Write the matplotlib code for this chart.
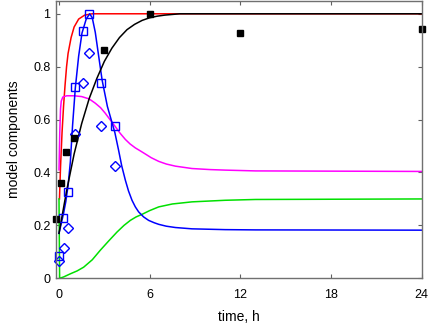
import matplotlib
matplotlib.use("Agg")
import matplotlib.pyplot as plt

plt.rcParams['font.family'] = ['Liberation Sans', 'DejaVu Sans']

# datos experimentales
t_black = [-0.18, 0.15, 0.44, 0.97, 3.0, 6.0, 12.0, 24.0]
y_black = [0.223, 0.361, 0.477, 0.529, 0.864, 1.0, 0.927, 0.943]

t_sq = [-0.02, 0.26, 0.6, 1.08, 1.56, 2.0, 2.78, 3.7]
y_sq = [0.083, 0.228, 0.327, 0.722, 0.936, 1.0, 0.74, 0.576]

t_dia = [-0.02, 0.3, 0.62, 1.08, 1.56, 2.0, 2.78, 3.7]
y_dia = [0.065, 0.115, 0.192, 0.544, 0.74, 0.853, 0.576, 0.425]

# curvas del modelo
t_red = [0.03, 0.1, 0.2, 0.3, 0.4, 0.5, 0.6, 0.8, 1.0, 1.3, 1.7, 2.2, 24]
y_red = [0.30, 0.42, 0.55, 0.65, 0.73, 0.80, 0.85, 0.91, 0.95, 0.98, 0.995, 1.0, 1.0]

t_mag = [0, 0.05, 0.1, 0.15, 0.25, 0.5, 1.0, 1.5, 2.0, 2.4, 2.75, 3.06, 3.4,
         3.73, 4.05, 4.39, 4.7, 5.05, 5.4, 5.71, 6.1, 6.6, 7.1, 7.7, 8.8,
         10, 11, 13, 24]
y_mag = [0.41, 0.55, 0.64, 0.67, 0.685, 0.69, 0.69, 0.687, 0.678, 0.662, 0.645,
         0.624, 0.598, 0.573, 0.548, 0.525, 0.508, 0.493, 0.481, 0.47, 0.456,
         0.442, 0.432, 0.424, 0.415, 0.411, 0.409, 0.406, 0.404]

t_blue = [0, 0.3, 0.45, 0.6, 0.75, 0.9, 1.08, 1.3, 1.52, 1.8, 2.03, 2.2, 2.4,
          2.6, 2.85, 3.2, 3.5, 3.7, 3.94, 4.15, 4.39, 4.6, 4.83, 5.05, 5.27,
          5.6, 5.93, 6.3, 6.6, 7.1, 7.7, 8.8, 11, 13, 24]
y_blue = [0.17, 0.245, 0.29, 0.35, 0.44, 0.58, 0.72, 0.84, 0.927, 0.98, 1.0,
          0.985, 0.93, 0.85, 0.75, 0.65, 0.59, 0.55, 0.485, 0.425, 0.371,
          0.33, 0.295, 0.27, 0.251, 0.232, 0.219, 0.21, 0.204, 0.197, 0.192,
          0.187, 0.184, 0.183, 0.182]

t_black_c = [0, 0.5, 1, 1.5, 2, 2.5, 3, 3.5, 4, 4.5, 5, 5.5, 6, 6.5, 7, 8, 24]
y_black_c = [0.17, 0.33, 0.47, 0.585, 0.68, 0.755, 0.82, 0.87, 0.91, 0.94, 0.96,
             0.975, 0.985, 0.991, 0.995, 1.0, 1.0]

t_green = [0, 0.04, 0.3, 0.75, 1.2, 1.63, 2.2, 2.73, 3.3, 3.84, 4.3, 4.72, 5.1,
           5.5, 6.0, 6.6, 7.5, 8.8, 11, 13, 24]
y_green = [0.30, 0.0, 0.005, 0.017, 0.028, 0.042, 0.07, 0.106, 0.142, 0.175,
           0.2, 0.219, 0.232, 0.242, 0.256, 0.27, 0.281, 0.289, 0.295, 0.298,
           0.30]

fig = plt.figure(figsize=(4.29, 3.26), dpi=100)
ax = fig.add_axes([0.1305, 0.1463, 0.8525, 0.852])

ax.plot(t_red, y_red, color='#ff0000', lw=1.1)
ax.plot(t_mag, y_mag, color='#ff00ff', lw=1.1)
ax.plot(t_green, y_green, color='#00e000', lw=1.1)
ax.plot(t_blue, y_blue, color='#0000ff', lw=1.1)
ax.plot(t_black_c, y_black_c, color='black', lw=1.1)

ax.plot(t_sq, y_sq, 's', ms=5.5, mfc='none', mec='#0000ff', mew=1.0, clip_on=False)
ax.plot(t_dia, y_dia, 'D', ms=5.5, mfc='none', mec='#0000ff', mew=1.0, clip_on=False)
ax.plot(t_black, y_black, 's', ms=5, color='black', clip_on=False)

ax.set_xlim(-0.2, 24)
ax.set_ylim(0, 1.05)
ax.set_xticks([0, 6, 12, 18, 24])
ax.set_yticks([0, 0.2, 0.4, 0.6, 0.8, 1])
ax.set_yticklabels(['0', '0.2', '0.4', '0.6', '0.8', '1'])
ax.tick_params(direction='in', length=3, width=0.8, color='#606060',
               top=True, right=True, labelsize=9, pad=4)
ax.tick_params(axis='x', pad=8)
for s in ax.spines.values():
    s.set_color('#707070')
    s.set_linewidth(1.0)

ax.set_xlabel('time, h', fontsize=10, labelpad=6)
ax.set_ylabel('model components', fontsize=10, labelpad=9)

fig.savefig('out.png', dpi=100)
